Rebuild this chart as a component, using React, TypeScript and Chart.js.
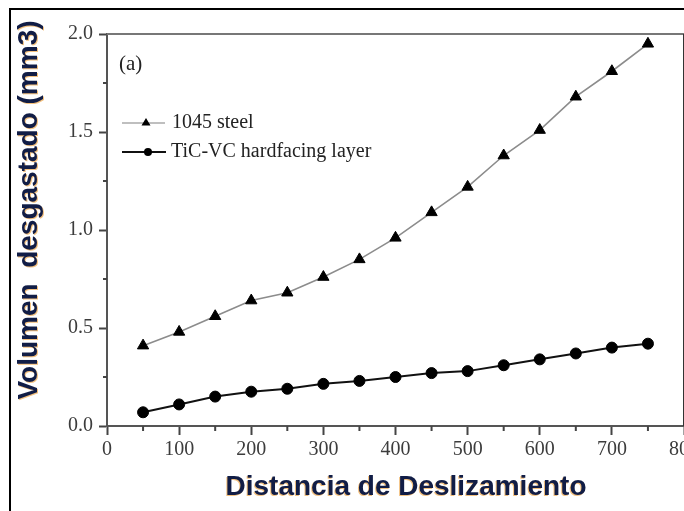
import React, { useEffect, useRef } from 'react';
import { Chart, registerables } from 'chart.js';

Chart.register(...registerables);

// Sliding distance (x) and worn volume (mm3) for each material
const distances = [50, 100, 150, 200, 250, 300, 350, 400, 450, 500, 550, 600, 650, 700, 750];
const steelVolume = [0.41, 0.48, 0.56, 0.64, 0.68, 0.76, 0.85, 0.96, 1.09, 1.22, 1.38, 1.51, 1.68, 1.81, 1.95];
const hardfacingVolume = [0.07, 0.11, 0.15, 0.175, 0.19, 0.215, 0.23, 0.25, 0.27, 0.28, 0.31, 0.34, 0.37, 0.4, 0.42];

const seriesLabels = ['1045 steel', 'TiC-VC hardfacing layer'];
const xMinorTicks = [50, 150, 250, 350, 450, 550, 650, 750];
const yMinorTicks = [0.25, 0.75, 1.25, 1.75];
const xTitle = 'Distancia de Deslizamiento';
const yTitle = 'Volumen  desgastado (mm3)';
const panelTag = '(a)';

const SERIF = '"Liberation Serif", "Times New Roman", serif';
const SANS = '"Liberation Sans", Arial, sans-serif';
const TITLE_COLOR = '#111d46';
const FRINGE = 'rgba(235, 150, 40, 0.6)';

const decorations = {
  id: 'decorations',
  afterDraw(chart: any) {
    const { ctx, chartArea } = chart;
    const xs = chart.scales.x;
    const ys = chart.scales.y;
    ctx.save();

    // outer frame (top and left edges)
    ctx.strokeStyle = '#000';
    ctx.lineWidth = 2;
    ctx.beginPath();
    ctx.moveTo(10, chart.height + 5);
    ctx.lineTo(10, 9);
    ctx.lineTo(chart.width + 5, 9);
    ctx.stroke();

    // top and right edges of the plot box
    ctx.lineWidth = 2;
    ctx.strokeStyle = '#777';
    ctx.beginPath();
    ctx.moveTo(chartArea.left, chartArea.top);
    ctx.lineTo(chartArea.right, chartArea.top);
    ctx.stroke();
    ctx.strokeStyle = '#333';
    ctx.beginPath();
    ctx.moveTo(chartArea.right, chartArea.top);
    ctx.lineTo(chartArea.right, chartArea.bottom);
    ctx.stroke();

    // minor ticks
    ctx.strokeStyle = '#444';
    ctx.lineWidth = 2;
    ctx.beginPath();
    xMinorTicks.forEach((v) => {
      const px = xs.getPixelForValue(v);
      ctx.moveTo(px, chartArea.bottom);
      ctx.lineTo(px, chartArea.bottom + 5);
    });
    yMinorTicks.forEach((v) => {
      const py = ys.getPixelForValue(v);
      ctx.moveTo(chartArea.left, py);
      ctx.lineTo(chartArea.left - 4, py);
    });
    ctx.stroke();

    // axis titles
    ctx.font = `bold 28px ${SANS}`;
    ctx.textAlign = 'center';
    ctx.textBaseline = 'middle';
    ctx.fillStyle = FRINGE;
    ctx.fillText(xTitle, 405, 488);
    ctx.fillStyle = TITLE_COLOR;
    ctx.fillText(xTitle, 406, 487);

    ctx.save();
    ctx.translate(29, 210);
    ctx.rotate(-Math.PI / 2);
    ctx.fillStyle = FRINGE;
    ctx.fillText(yTitle, -1, 1);
    ctx.fillStyle = TITLE_COLOR;
    ctx.fillText(yTitle, 0, 0);
    ctx.restore();

    // panel tag
    ctx.font = `21px ${SERIF}`;
    ctx.textAlign = 'left';
    ctx.fillStyle = '#222';
    ctx.fillText(panelTag, 119, 64);

    // legend
    ctx.strokeStyle = '#aaa';
    ctx.lineWidth = 1.5;
    ctx.beginPath();
    ctx.moveTo(122, 123);
    ctx.lineTo(165, 123);
    ctx.stroke();
    ctx.fillStyle = '#000';
    ctx.beginPath();
    ctx.moveTo(146, 118);
    ctx.lineTo(150.5, 125.5);
    ctx.lineTo(141.5, 125.5);
    ctx.closePath();
    ctx.fill();

    ctx.strokeStyle = '#111';
    ctx.lineWidth = 2.2;
    ctx.beginPath();
    ctx.moveTo(122, 152);
    ctx.lineTo(166, 152);
    ctx.stroke();
    ctx.beginPath();
    ctx.arc(148, 152, 4, 0, Math.PI * 2);
    ctx.fill();

    ctx.font = `20px ${SERIF}`;
    ctx.fillStyle = '#222';
    ctx.fillText(seriesLabels[0], 172, 123);
    ctx.fillText(seriesLabels[1], 171, 152);

    ctx.restore();
  },
};

export default function App() {
  const canvasRef = useRef<HTMLCanvasElement | null>(null);

  useEffect(() => {
    const canvas = canvasRef.current;
    if (!canvas) return;
    const chart = new Chart(canvas, {
      type: 'line',
      data: {
        datasets: [
          {
            label: seriesLabels[0],
            data: distances.map((x, i) => ({ x, y: steelVolume[i] })),
            borderColor: '#8c8c8c',
            borderWidth: 1.6,
            pointStyle: 'triangle',
            pointRadius: 6.5,
            pointBackgroundColor: '#000',
            pointBorderColor: '#000',
            pointBorderWidth: 1,
            tension: 0,
          },
          {
            label: seriesLabels[1],
            data: distances.map((x, i) => ({ x, y: hardfacingVolume[i] })),
            borderColor: '#111',
            borderWidth: 2,
            pointStyle: 'circle',
            pointRadius: 5.5,
            pointBackgroundColor: '#000',
            pointBorderColor: '#000',
            pointBorderWidth: 1,
            tension: 0,
          },
        ],
      },
      options: {
        responsive: false,
        animation: false,
        devicePixelRatio: 1,
        layout: { padding: { left: 0, top: 34, right: 46, bottom: 0 } },
        plugins: { legend: { display: false }, tooltip: { enabled: false } },
        scales: {
          x: {
            type: 'linear',
            min: 0,
            max: 800,
            afterFit: (s: any) => {
              s.height = 85;
            },
            border: { color: '#555', width: 2 },
            grid: {
              drawOnChartArea: false,
              tickLength: 9,
              tickWidth: 2,
              tickColor: '#444',
            },
            ticks: {
              stepSize: 100,
              autoSkip: false,
              maxRotation: 0,
              padding: 3,
              color: '#3c3c3c',
              font: { family: SERIF, size: 20 },
              callback: (v: any) => String(v),
            },
          },
          y: {
            type: 'linear',
            min: 0,
            max: 2,
            afterFit: (s: any) => {
              s.width = 107;
            },
            border: { color: '#555', width: 2 },
            grid: {
              drawOnChartArea: false,
              tickLength: 8,
              tickWidth: 2,
              tickColor: '#444',
            },
            ticks: {
              stepSize: 0.5,
              autoSkip: false,
              padding: 6,
              color: '#3c3c3c',
              font: { family: SERIF, size: 20 },
              callback: (v: any) => Number(v).toFixed(1),
            },
          },
        },
      },
      plugins: [decorations],
    });
    return () => chart.destroy();
  }, []);

  return (
    <div
      style={{
        position: 'fixed',
        left: 0,
        top: 0,
        width: 684,
        height: 511,
        overflow: 'hidden',
        background: '#fff',
      }}
    >
      <canvas ref={canvasRef} width={730} height={511} style={{ width: 730, height: 511, display: 'block' }} />
    </div>
  );
}
